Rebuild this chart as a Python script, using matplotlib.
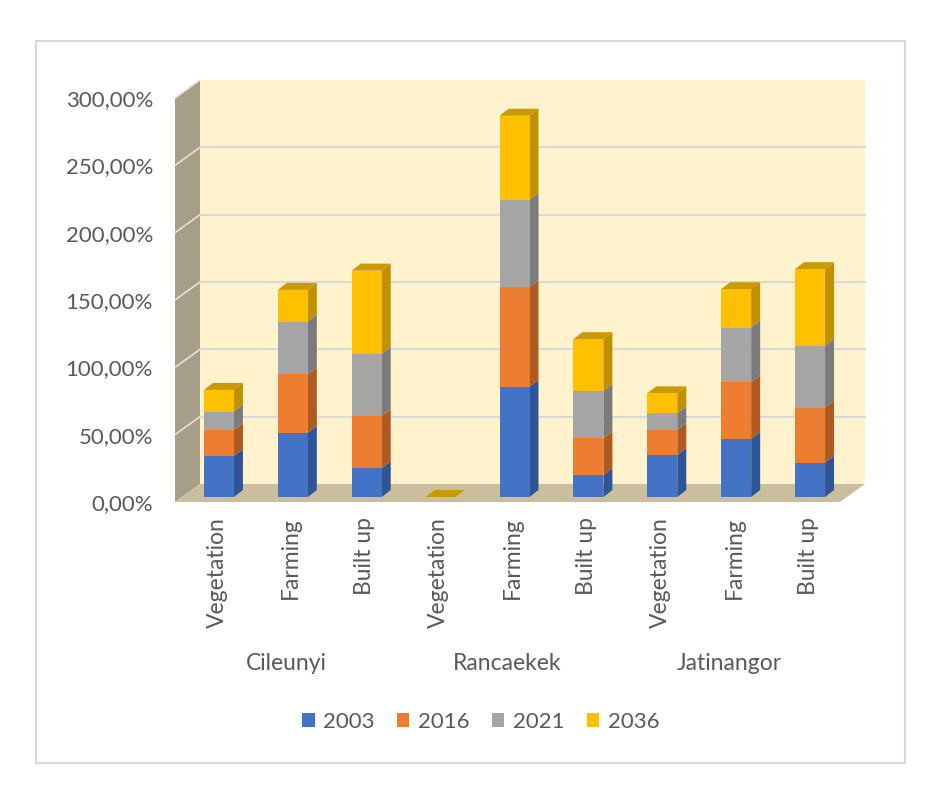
import matplotlib
matplotlib.use('Agg')
import matplotlib.pyplot as plt
from matplotlib.patches import Polygon, Rectangle, Patch
import numpy as np

plt.rcParams['font.family'] = ['Lato', 'DejaVu Sans']

# data (percent)
groups = ['Cileunyi', 'Rancaekek', 'Jatinangor']
classes = ['Vegetation', 'Farming', 'Built up']
years = ['2003', '2016', '2021', '2036']
v2003 = [30.5, 47.8, 21.3, 0, 81.9, 16.3, 31.2, 43.1, 25.5]
v2016 = [19.3, 43.3, 38.9, 0, 73.9, 27.3, 18.6, 42.1, 40.8]
v2021 = [13.6, 39.2, 46.0, 0, 64.8, 35.2, 12.4, 40.6, 46.1]
v2036 = [16.1, 23.5, 61.9, 0, 62.5, 38.4, 14.8, 28.5, 56.8]
yticks = [0, 50, 100, 150, 200, 250, 300]

series = [v2003, v2016, v2021, v2036]
front_cols = ['#4472C4', '#ED7D31', '#A5A5A5', '#FFC000']
side_cols = ['#2F5597', '#AE5A21', '#7B7B7B', '#BF9000']
top_cols = ['#3A64B0', '#D06B27', '#8F8F8F', '#C99A06']
text_col = '#595959'

W, H = 941, 790
fig = plt.figure(figsize=(W / 100, H / 100), dpi=100)
fig.patch.set_facecolor('white')
fig.add_artist(Rectangle((36 / W, 1 - 763 / H), 869 / W, 722 / H, transform=fig.transFigure,
                         fill=False, edgecolor='#D9D9D9', lw=1.5))

# axes = plane of the bar front faces
ax_l, ax_r, ax_b, ax_t = 182, 847, 497, 93
ax = fig.add_axes([ax_l / W, 1 - ax_b / H, (ax_r - ax_l) / W, (ax_b - ax_t) / H])
n = len(v2003)
ax.set_xlim(-0.5, n - 0.5)
ax.set_ylim(0, 300)
ax.axis('off')

px_x = (ax_r - ax_l) / n
px_y = (ax_b - ax_t) / 300.0

def off(dx, dy):
    return dx / px_x, dy / px_y

bwx, bwy = off(18, 13)    # back wall
fwx, fwy = off(-7, -5)    # front of floor / side wall
ddx, ddy = off(9, 7)      # bar depth
x0, x1 = -0.5, n - 0.5

# back wall
ax.add_patch(Rectangle((x0 + bwx, bwy), n, 300, facecolor='#FFF2CC', edgecolor='none',
                       zorder=0, clip_on=False))
for t in yticks[1:-1]:
    ax.plot([x0 + bwx, x1 + bwx], [t + bwy, t + bwy], color='#D9D9D9', lw=1.5,
            zorder=1, clip_on=False)
# left wall
ax.add_patch(Polygon([(x0 + fwx, fwy), (x0 + fwx, 300 + fwy), (x0 + bwx, 300 + bwy), (x0 + bwx, bwy)],
                     closed=True, facecolor='#A69E86', edgecolor='none', zorder=1, clip_on=False))
for t in yticks[1:]:
    ax.plot([x0 + fwx, x0 + bwx], [t + fwy, t + bwy], color='#E4E1DA', lw=1.2,
            zorder=2, clip_on=False)
# floor
ax.add_patch(Polygon([(x0 + fwx, fwy), (x1 + fwx, fwy), (x1 + bwx, bwy), (x0 + bwx, bwy)],
                     closed=True, facecolor='#CABE9E', edgecolor='none', zorder=2, clip_on=False))

# bars
x = np.arange(n)
w = 30 / px_x
bottom = np.zeros(n)
for k, vals in enumerate(series):
    vals = np.array(vals)
    ax.bar(x, vals, width=w, bottom=bottom, color=front_cols[k], zorder=5, label=years[k],
           clip_on=False)
    for i in range(n):
        if vals[i] <= 0:
            continue
        xr = x[i] + w / 2
        b, t = bottom[i], bottom[i] + vals[i]
        ax.add_patch(Polygon([(xr, b), (xr + ddx, b + ddy), (xr + ddx, t + ddy), (xr, t)],
                             closed=True, facecolor=side_cols[k], edgecolor='none', zorder=4,
                             clip_on=False))
    bottom = bottom + vals

for i in range(n):
    xl, xr, t = x[i] - w / 2, x[i] + w / 2, bottom[i]
    ax.add_patch(Polygon([(xl, t), (xr, t), (xr + ddx, t + ddy), (xl + ddx, t + ddy)],
                         closed=True, facecolor=top_cols[-1], edgecolor='none', zorder=4,
                         clip_on=False))

# y tick labels
for t in yticks:
    ax.text(x0 + fwx - 22 / px_x, t + fwy - 2 / px_y, f'{t},00%',
            ha='right', va='center', fontsize=16, color=text_col)

# category labels
for i in range(n):
    ax.text(x[i] - 2 / px_x, -20 / px_y, classes[i % 3], rotation=90, ha='center', va='top',
            fontsize=16.5, color=text_col)
for g, name in enumerate(groups):
    ax.text(3 * g + 1 - 7 / px_x, -167 / px_y, name, ha='center', va='center',
            fontsize=16.5, color=text_col)

handles = [Patch(facecolor=c, edgecolor='none') for c in front_cols]
fig.legend(handles, years, loc='center', bbox_to_anchor=(481 / W, 1 - 722 / H), ncol=4,
           frameon=False, fontsize=16, handlelength=0.55, handleheight=0.55,
           handletextpad=0.4, columnspacing=1.0, labelcolor=text_col)

plt.savefig('out.png', dpi=100)
